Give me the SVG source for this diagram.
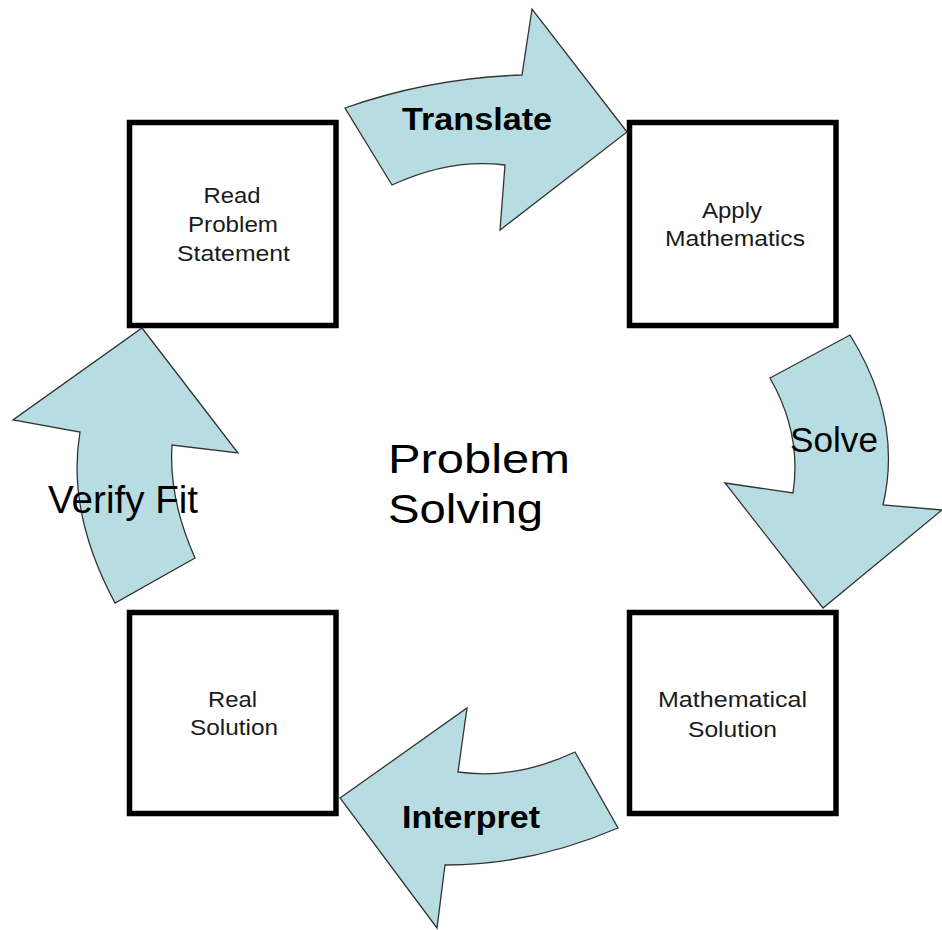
<svg xmlns="http://www.w3.org/2000/svg" width="942" height="930" viewBox="0 0 942 930">
<style>
.box{fill:#ffffff;stroke:#000000;stroke-width:5.5}
.bt{font-family:"Liberation Sans",Arial,sans-serif;font-size:22px;fill:#1a1a1a;text-anchor:middle}
.arr{fill:#b7dde2;stroke:#333333;stroke-width:1.3;stroke-linejoin:miter}
.lb{font-family:"Liberation Sans",Arial,sans-serif;fill:#000000}
.ct{font-family:"Liberation Sans",Arial,sans-serif;font-size:40px;fill:#000000}
</style>
<rect width="942" height="930" fill="#ffffff"/>
<g id="node-read">
<rect class="box" x="129.5" y="122.5" width="206.5" height="203"/>
<text class="bt" x="232" y="203" textLength="57" lengthAdjust="spacingAndGlyphs">Read</text>
<text class="bt" x="233" y="232" textLength="90" lengthAdjust="spacingAndGlyphs">Problem</text>
<text class="bt" x="233.5" y="261" textLength="113" lengthAdjust="spacingAndGlyphs">Statement</text>
</g>
<g id="node-apply">
<rect class="box" x="629.5" y="122.5" width="206.5" height="203"/>
<text class="bt" x="732" y="218" textLength="60" lengthAdjust="spacingAndGlyphs">Apply</text>
<text class="bt" x="735" y="246" textLength="140" lengthAdjust="spacingAndGlyphs">Mathematics</text>
</g>
<g id="node-mathsol">
<rect class="box" x="629.5" y="612.5" width="206.5" height="201"/>
<text class="bt" x="732.5" y="707" textLength="149" lengthAdjust="spacingAndGlyphs">Mathematical</text>
<text class="bt" x="732.5" y="737" textLength="89" lengthAdjust="spacingAndGlyphs">Solution</text>
</g>
<g id="node-realsol">
<rect class="box" x="129.5" y="612.5" width="206.5" height="201"/>
<text class="bt" x="232.5" y="707" textLength="49" lengthAdjust="spacingAndGlyphs">Real</text>
<text class="bt" x="234" y="735" textLength="88" lengthAdjust="spacingAndGlyphs">Solution</text>
</g>
<g id="node-center">
<text class="ct" x="388" y="473" textLength="182" lengthAdjust="spacingAndGlyphs">Problem</text>
<text class="ct" x="388" y="523" textLength="155" lengthAdjust="spacingAndGlyphs">Solving</text>
</g>
<g id="connectors">
<g id="arrow-translate">
<path class="arr" d="M345,108 Q430,78 522,75 L532,9 L627,132 L500,230 L505,165 Q450,158 392,185 Z"/>
<text class="lb" x="402" y="130" font-size="32" font-weight="bold" textLength="150" lengthAdjust="spacingAndGlyphs">Translate</text>
</g>
<g id="arrow-solve">
<path class="arr" d="M770,378 L850,335 Q903,420 883,505 L942,510 L823,608 L725,483 L793,493 Q802,434 770,378 Z"/>
<text class="lb" x="790" y="452" font-size="35" textLength="88" lengthAdjust="spacingAndGlyphs">Solve</text>
</g>
<g id="arrow-interpret">
<path class="arr" d="M340,798 L467,708 L458,772 Q515.5,780 575,752 L618,828 Q530.5,865.5 445,865 L437,928 Z"/>
<text class="lb" x="402" y="828" font-size="32" font-weight="bold" textLength="138" lengthAdjust="spacingAndGlyphs">Interpret</text>
</g>
<g id="arrow-verify">
<path class="arr" d="M142,328 L238,453 L172,445 Q168.5,498.5 195,558 L115,603 Q66.5,512.5 80,432 L13,420 Z"/>
<text class="lb" x="48" y="513" font-size="38" textLength="150" lengthAdjust="spacingAndGlyphs">Verify Fit</text>
</g>
</g>
</svg>
